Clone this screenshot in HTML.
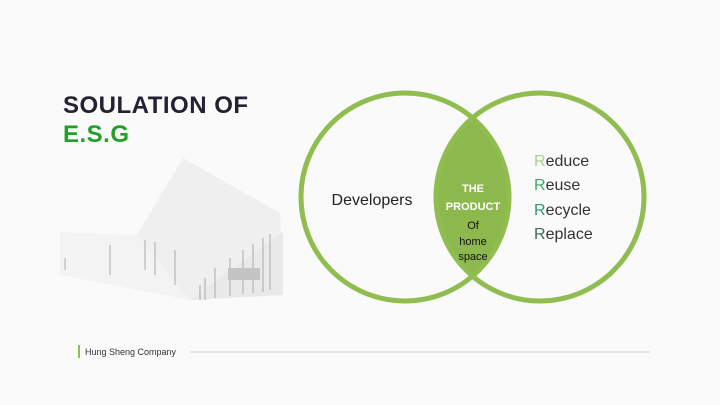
<!DOCTYPE html>
<html><head><style>
body{margin:0;width:720px;height:405px;overflow:hidden;background:#fafafa;font-family:"Liberation Sans",sans-serif;position:relative}
.t{position:absolute;left:63px;font-size:24px;font-weight:bold;letter-spacing:0.5px}
</style></head><body>
<div class="t" style="top:92px;color:#222233">SOULATION OF</div>
<div class="t" style="top:121px;color:#22a02a">E.S.G</div>
<svg width="720" height="405" style="position:absolute;left:0;top:0">
<polygon points="183,158 280,213 283,295 190,300 137,235" fill="#efefef"/>
<polygon points="60,232 137,235 190,300 60,275" fill="#f3f3f3"/>
<polygon points="190,300 283,232 283,295" fill="#e9e9e9"/>
<g stroke="#aaa" stroke-width="1">
<line x1="200" y1="285" x2="200" y2="300"/><line x1="205" y1="278" x2="205" y2="300"/><line x1="215" y1="268" x2="215" y2="298"/><line x1="230" y1="258" x2="230" y2="296"/><line x1="243" y1="250" x2="243" y2="294"/><line x1="253" y1="244" x2="253" y2="293"/><line x1="263" y1="238" x2="263" y2="292"/><line x1="270" y1="234" x2="270" y2="290"/>
<line x1="65" y1="258" x2="65" y2="270"/><line x1="110" y1="245" x2="110" y2="275"/><line x1="145" y1="240" x2="145" y2="270"/><line x1="155" y1="242" x2="155" y2="275"/><line x1="175" y1="250" x2="175" y2="285"/>
</g>
<rect x="228" y="268" width="32" height="12" fill="#c4c4c4"/>
<defs><clipPath id="c"><circle cx="405" cy="197" r="104"/></clipPath></defs>
<circle cx="540" cy="197" r="104" fill="#8db84d" clip-path="url(#c)"/>
<circle cx="405" cy="197" r="104" fill="none" stroke="#8fbd50" stroke-width="5"/>
<circle cx="540" cy="197" r="104" fill="none" stroke="#8fbd50" stroke-width="5"/>
<text x="372" y="205" font-size="16" text-anchor="middle" fill="#222">Developers</text>
<text x="473" y="192" font-size="11" font-weight="bold" text-anchor="middle" fill="#fff">THE</text>
<text x="473" y="210" font-size="11" font-weight="bold" text-anchor="middle" fill="#fff">PRODUCT</text>
<text x="473" y="229" font-size="11" text-anchor="middle" fill="#111">Of</text>
<text x="473" y="245" font-size="11" text-anchor="middle" fill="#111">home</text>
<text x="473" y="260" font-size="11" text-anchor="middle" fill="#111">space</text>
<g font-size="16" fill="#333">
<text x="534" y="166"><tspan fill="#a8d08a">R</tspan>educe</text>
<text x="534" y="190"><tspan fill="#3da86a">R</tspan>euse</text>
<text x="534" y="215"><tspan fill="#2a9a70">R</tspan>ecycle</text>
<text x="534" y="239"><tspan fill="#3a6a5a">R</tspan>eplace</text>
</g>
<line x1="79" y1="345" x2="79" y2="358" stroke="#8fbd50" stroke-width="2"/>
<text x="85" y="355" font-size="9" fill="#333">Hung Sheng Company</text>
<line x1="190" y1="352" x2="650" y2="352" stroke="#ccc" stroke-width="1"/>
</svg>
</body></html>
